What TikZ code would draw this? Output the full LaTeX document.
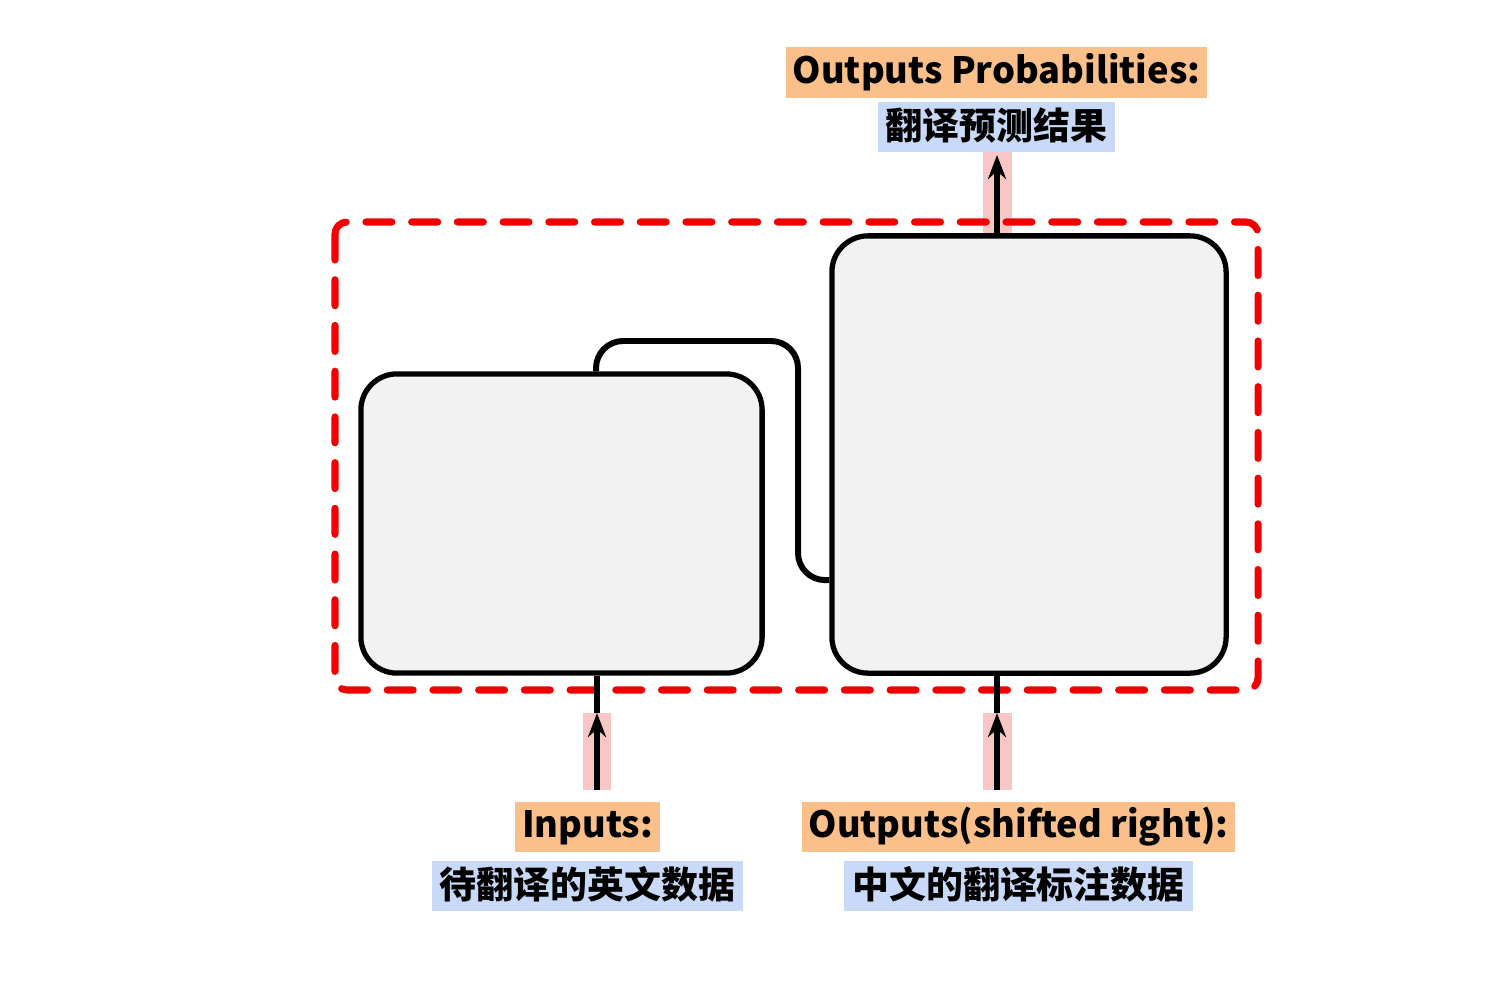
\documentclass[tikz,border=0pt]{standalone}
\usepackage{fontspec}
\setmainfont{Noto Sans CJK SC}
\usetikzlibrary{arrows.meta,positioning,calc}

\definecolor{boxgray}{HTML}{F2F2F2}
\definecolor{tagorange}{HTML}{FBC08A}
\definecolor{tagblue}{HTML}{C9DAF8}
\definecolor{markpink}{HTML}{F9C6C6}
\definecolor{framered}{HTML}{F00000}

\tikzset{
  block/.style={draw,line width=1.5pt,rounded corners=0.36cm,fill=boxgray},
  entag/.style={fill=tagorange,font=\bfseries\fontsize{10.3}{13}\selectfont,inner xsep=0.07cm,inner ysep=0pt,
    text height=0.27cm,text depth=0.06cm,minimum height=0.5cm},
  cntag/.style={fill=tagblue,font=\bfseries\fontsize{10.5}{12}\selectfont,inner xsep=0.08cm,inner ysep=0pt,
    text height=0.3cm,text depth=0.05cm,minimum height=0.5cm},
  flow/.style={line width=1.7pt},
  flowarrow/.style={flow,-{Stealth[length=0.24cm,width=0.18cm]}},
  mark/.style={fill=markpink}
}

\begin{document}
\begin{tikzpicture}[x=0.01cm,y=-0.01cm]
  \useasboundingbox (0,0) rectangle (1492,988);
  % highlight strips behind the arrows
  \fill[markpink] (583,713) rectangle (611,790);
  \fill[markpink] (983,713) rectangle (1012,790);
  \fill[markpink] (983,152) rectangle (1012,236);
  % whole model
  \draw[framered,line width=2pt,line cap=round,dash pattern=on 7.4pt off 5.6pt,rounded corners=0.12cm]
    (335,222) rectangle (1258,690);
  \node[block,minimum width=4.01cm,minimum height=2.99cm] (enc) at (561.5,523.5) {};
  \node[block,minimum width=3.94cm,minimum height=4.37cm] (dec) at (1029,454.5) {};
  \draw[flow,rounded corners=0.27cm] ([xshift=0.345cm]enc.north) |- (798,341) |- ([yshift=-1.255cm]dec.west);
  % labels
  \node[entag] (outprob) at (996.5,72.5) {Outputs Probabilities:};
  \node[cntag,below=0.03cm of outprob] (outprobcn) {翻译预测结果};
  \node[entag] (inputs) at (587.5,826.5) {Inputs:};
  \node[cntag,below=0.08cm of inputs] (inputscn) {待翻译的英文数据};
  \node[entag] (shifted) at (1018.5,826.5) {Outputs(shifted right):};
  \node[cntag,below=0.08cm of shifted] (shiftedcn) {中文的翻译标注数据};
  % arrows
  \coordinate (intip) at (597,713);
  \coordinate (intail) at (597,790);
  \coordinate (shtip) at (997,713);
  \coordinate (shtail) at (997,790);
  \coordinate (outtip) at (997,155);
  \draw[flow] (intip |- enc.south) -- (intip);
  \draw[flowarrow] (intail) -- (intip);
  \draw[flow] (shtip |- dec.south) -- (shtip);
  \draw[flowarrow] (shtail) -- (shtip);
  \draw[flowarrow] (outtip |- dec.north) -- (outtip);
\end{tikzpicture}
\end{document}
